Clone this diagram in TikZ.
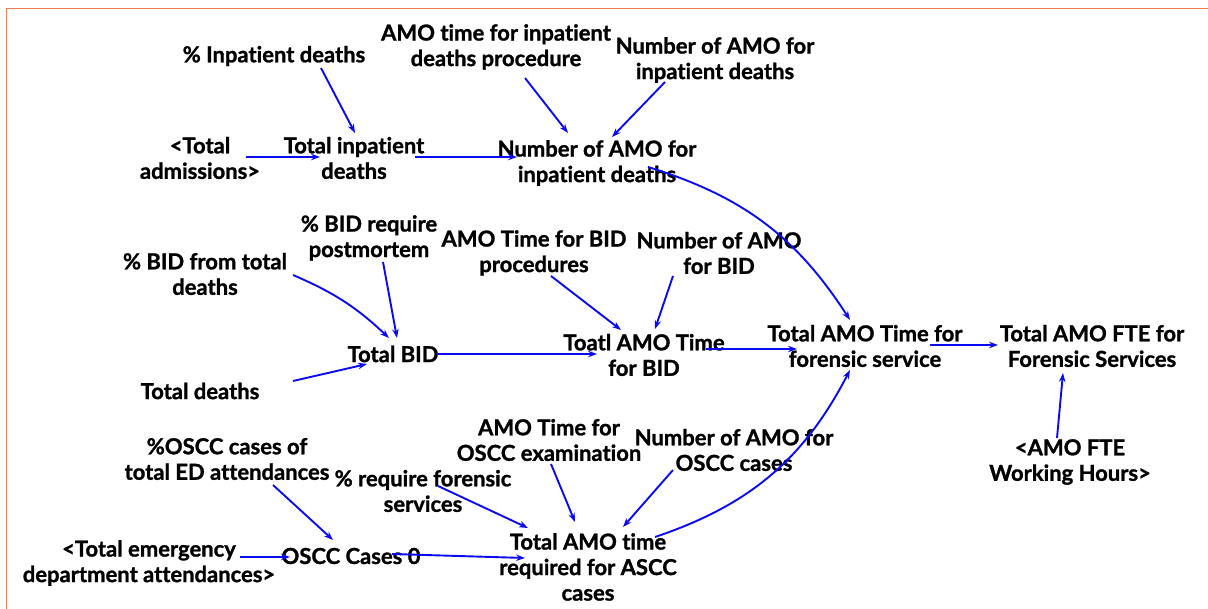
\documentclass[tikz,border=0pt]{standalone}
\usepackage{fontspec}
\setmainfont{Lato}[Ligatures=NoCommon,BoldFeatures={FakeBold=1.2}]
\usetikzlibrary{arrows.meta}
\definecolor{frameorange}{RGB}{244,122,80}
\definecolor{linkblue}{RGB}{10,10,245}
\begin{document}
\begin{tikzpicture}[x=1pt,y=-1pt,
  var/.style={align=center,inner sep=0pt,font=\fontsize{22}{25.5}\selectfont\bfseries},
  link/.style={draw=linkblue,line width=1.9pt,-{Stealth[length=9pt,width=6.5pt]}}]
\useasboundingbox (0,0) rectangle (1208,609);
% frame lines
\draw[frameorange,line width=1.6pt] (6.5,609) -- (6.5,8.5) -- (1208,8.5);

% variables
\node[var] (pin)      at (274,56)  {\% Inpatient deaths};
\node[var] (amotin)   at (496,47)  {AMO time for inpatient\\deaths procedure};
\node[var] (namoin)   at (715,60)  {Number of AMO for\\inpatient deaths};
\node[var] (tadm)     at (200,158) {<Total\\admissions>};
\node[var] (tinp)     at (354,158) {Total inpatient\\deaths};
\node[var] (namo2)    at (597,163) {Number of AMO for\\inpatient deaths};
\node[var] (bidpm)    at (369,238) {\% BID require\\postmortem};
\node[var] (amobid)   at (534,253) {AMO Time for BID\\procedures};
\node[var] (namobid)  at (719,253) {Number of AMO\\for BID};
\node[var] (bidtot)   at (205,274) {\% BID from total\\deaths};
\node[var] (tbid)     at (393,354) {Total BID};
\node[var] (tabid)    at (644,355) {Toatl AMO Time\\for BID};
\node[var] (tfor)     at (865,346) {Total AMO Time for\\forensic service};
\node[var] (tfte)     at (1092,346) {Total AMO FTE for\\Forensic Services};
\node[var] (tdeaths)  at (200,391) {Total deaths};
\node[var] (amooscc)  at (549,440) {AMO Time for\\OSCC examination};
\node[var] (namooscc) at (734,450) {Number of AMO for\\OSCC cases};
\node[var] (poscc)    at (227,459) {\%OSCC cases of\\total ED attendances};
\node[var] (preq)     at (423,491) {\% require forensic\\services};
\node[var] (ftehrs)   at (1070,462) {<AMO FTE\\Working Hours>};
\node[var] (ted)      at (149,563) {<Total emergency\\department attendances>};
\node[var] (oscc)     at (351,556) {OSCC Cases 0};
\node[var] (tascc)    at (588,567) {Total AMO time\\required for ASCC\\cases};

% links
\draw[link] ([shift={(47,12)}]pin.center) -- ([shift={(1,-25)}]tinp.center);
\draw[link] ([shift={(46,-1)}]tadm.center) -- ([shift={(-34,-1)}]tinp.center);
\draw[link] ([shift={(61,-1)}]tinp.center) -- ([shift={(-80,-6)}]namo2.center);
\draw[link] ([shift={(29,31)}]amotin.center) -- ([shift={(-29,-30)}]namo2.center);
\draw[link] ([shift={(-50,22)}]namoin.center) -- ([shift={(15,-26)}]namo2.center);
\draw[link] ([shift={(51,4)}]namo2.center) to[bend left=20] ([shift={(-15,-26)}]tfor.center);
\draw[link] ([shift={(14,24)}]bidpm.center) -- ([shift={(4,-16)}]tbid.center);
\draw[link] ([shift={(88,1)}]bidtot.center) to[bend left=10] ([shift={(-4,-16)}]tbid.center);
\draw[link] ([shift={(93,-10)}]tdeaths.center) -- ([shift={(-26,10)}]tbid.center);
\draw[link] ([shift={(44,0)}]tbid.center) -- ([shift={(-47,-1)}]tabid.center);
\draw[link] ([shift={(17,23)}]amobid.center) -- ([shift={(-23,-25)}]tabid.center);
\draw[link] ([shift={(-46,23)}]namobid.center) -- ([shift={(11,-26)}]tabid.center);
\draw[link] ([shift={(62,-6)}]tabid.center) -- ([shift={(-68,3)}]tfor.center);
\draw[link] ([shift={(65,-1)}]tfor.center) -- ([shift={(-94,-1)}]tfte.center);
\draw[link] ([shift={(-13,-24)}]ftehrs.center) -- ([shift={(-29,27)}]tfte.center);
\draw[link] ([shift={(67,-30)}]tascc.center) to[bend right=22] ([shift={(-15,24)}]tfor.center);
\draw[link] ([shift={(46,26)}]poscc.center) -- ([shift={(-18,-16)}]oscc.center);
\draw[link] ([shift={(15,-5)}]preq.center) -- ([shift={(-60,-39)}]tascc.center);
\draw[link] ([shift={(2,24)}]amooscc.center) -- ([shift={(-13,-45)}]tascc.center);
\draw[link] ([shift={(-61,20)}]namooscc.center) -- ([shift={(35,-40)}]tascc.center);
\draw[link] ([shift={(41,-2)}]oscc.center) -- ([shift={(-63,-9)}]tascc.center);
\draw[link] ([shift={(91,-6)}]ted.center) -- ([shift={(-61,1)}]oscc.center);
\end{tikzpicture}
\end{document}
